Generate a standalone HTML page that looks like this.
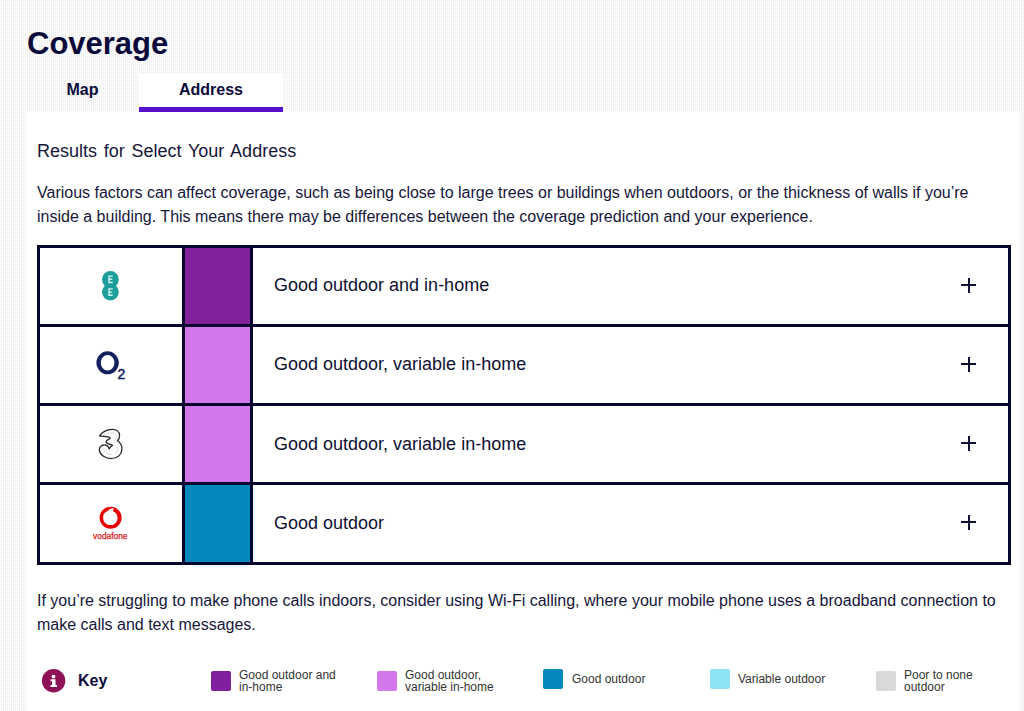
<!DOCTYPE html>
<html>
<head>
<meta charset="utf-8">
<style>
html,body{margin:0;padding:0;}
body{width:1024px;height:711px;overflow:hidden;position:relative;font-family:"Liberation Sans",sans-serif;
background-color:#fff;
background-image:conic-gradient(#eaeaea 0 25%,#fcfcfc 0 100%);
background-size:2px 2px;}
.abs{position:absolute;}
.title{left:27px;top:23.5px;font-size:31px;font-weight:bold;color:#0b0b3b;line-height:40px;white-space:nowrap;}
.tab{top:74px;height:38px;font-size:16px;font-weight:bold;color:#0b0b3b;text-align:center;line-height:32px;}
.tab.active{background:#fff;}
.tab.active::after{content:"";position:absolute;left:0;right:0;bottom:0;height:5px;background:#5810cc;}
.panel{left:26px;top:112px;width:991px;height:599px;background:#fff;}
.rstrip{left:1017px;top:112px;width:7px;height:599px;background:linear-gradient(90deg,#fefefe 0,#fbfbfb 4px,#f5f5f5 4px);}
.txt{color:#16163a;white-space:nowrap;}
.h2{left:37px;top:140px;font-size:18px;line-height:22px;word-spacing:1.75px;}
.p{left:37px;font-size:16px;line-height:24px;}
.tbl{left:37px;top:245px;width:974px;height:320px;background:#07072e;}
.cell{position:absolute;background:#fff;}
.sw{position:absolute;}
.rowtxt{position:absolute;left:274px;font-size:18px;line-height:22px;color:#0f0f33;white-space:nowrap;}
.plus{position:absolute;left:961px;width:15px;height:15px;}
.plus::before{content:"";position:absolute;left:0;top:6px;width:15px;height:2px;background:#0f0f33;}
.plus::after{content:"";position:absolute;left:6.5px;top:0;width:2px;height:15px;background:#0f0f33;}
.key{top:669px;height:24px;}
.ksw{position:absolute;width:20px;height:20px;border-radius:2px;}
.ktxt{position:absolute;font-size:12px;line-height:12px;color:#333;white-space:nowrap;}
</style>
</head>
<body>
<div class="abs title">Coverage</div>
<div class="abs tab" style="left:26px;width:113px;">Map</div>
<div class="abs tab active" style="left:139px;width:144px;">Address</div>
<div class="abs panel"></div>
<div class="abs rstrip"></div>

<div class="abs txt h2">Results for Select Your Address</div>
<div class="abs txt p" style="top:181px;">Various factors can affect coverage, such as being close to large trees or buildings when outdoors, or the thickness of walls if you’re<br>inside a building. This means there may be differences between the coverage prediction and your experience.</div>

<div class="abs tbl">
  <!-- row 1: y 248-324 -->
  <div class="cell" style="left:3px;top:3px;width:142px;height:76px;"></div>
  <div class="sw" style="left:148px;top:3px;width:65px;height:76px;background:#83209b;"></div>
  <div class="cell" style="left:216px;top:3px;width:755px;height:76px;"></div>
  <!-- row 2: y 327-403 -->
  <div class="cell" style="left:3px;top:82px;width:142px;height:76px;"></div>
  <div class="sw" style="left:148px;top:82px;width:65px;height:76px;background:#d378ea;"></div>
  <div class="cell" style="left:216px;top:82px;width:755px;height:76px;"></div>
  <!-- row 3: y 406-482 -->
  <div class="cell" style="left:3px;top:161px;width:142px;height:76px;"></div>
  <div class="sw" style="left:148px;top:161px;width:65px;height:76px;background:#d378ea;"></div>
  <div class="cell" style="left:216px;top:161px;width:755px;height:76px;"></div>
  <!-- row 4: y 485-562 -->
  <div class="cell" style="left:3px;top:240px;width:142px;height:77px;"></div>
  <div class="sw" style="left:148px;top:240px;width:65px;height:77px;background:#0588bc;"></div>
  <div class="cell" style="left:216px;top:240px;width:755px;height:77px;"></div>
</div>


<svg class="abs" style="left:0;top:0;" width="1024" height="711" viewBox="0 0 1024 711">
  <!-- EE -->
  <circle cx="110.4" cy="279.5" r="8.4" fill="#1d9e9b"/>
  <circle cx="110.4" cy="292.1" r="8.4" fill="#1d9e9b"/>
  <path d="M108.3 275.4h4.4v1.4h-3v1.8h2.6v1.3h-2.6v1.9h3v1.4h-4.4z" fill="#d2f6f6"/>
  <path d="M108.3 288.2h4.4v1.4h-3v1.8h2.6v1.3h-2.6v1.9h3v1.4h-4.4z" fill="#d2f6f6"/>
  <!-- O2 -->
  <path fill-rule="evenodd" fill="#13225e" d="M96.4 362.8a11.2 11.45 0 1 0 22.4 0a11.2 11.45 0 1 0 -22.4 0zM100.8 362.8a6.8 7.7 0 1 0 13.6 0a6.8 7.7 0 1 0 -13.6 0z"/>
  <text x="117.4" y="378.6" font-family="Liberation Sans" font-size="14" fill="#13225e" stroke="#13225e" stroke-width="0.5">2</text>
  <!-- Three -->
  <path d="M99.55 435.9 C102 432.4 107 429.5 112.2 429.4 C116.5 429.3 119.6 431.5 119.6 435.2 C119.6 437.8 118.6 439.6 117.5 440.7 C120.5 442.6 122.1 446 121.9 449.4 C121.6 454.6 117.6 458.4 111.8 458.5 C105.4 458.6 100 455 99.4 450.4 C99 447.2 101.2 445 104.1 444.9 C106.6 444.8 108.4 446.4 109.1 448.9 C110.1 447.2 111.4 446 112.7 445.3 C110.5 444.6 107.2 444 106.2 442.4 C105.6 441.4 106.8 440.4 108.2 439.6 C109.6 438.8 110.6 438.2 110.2 437.5 C107.4 436.4 102.8 436.6 99.55 435.9 Z" fill="#fdfdfd" stroke="#262626" stroke-width="1.25" stroke-linejoin="round"/>
  <path d="M104 434.6 C107 433 111 432.6 114.2 433.4 M116 435 C116.8 437 115.8 439.6 114.4 441.2 M103.6 449.4 C104.4 452.6 108.4 454.6 112 454.4 M117.2 447.2 C118.2 450 117.4 452.8 115.4 454.2" fill="none" stroke="#9a9a9a" stroke-width="0.8" stroke-dasharray="0.9 1.3"/>
  <!-- Vodafone -->
  <circle cx="110.6" cy="517.8" r="11" fill="#e60000"/>
  <path d="M107.8 510.9 C109.4 509 111.6 508 114 508.2 C113 509.2 112.8 510.4 113.2 511.4 C117 512.6 118.2 516.8 117.2 520.4 C115.8 524.8 110.6 526.2 106.8 524.2 C103 522.2 102.4 517.2 104 513.8 C104.8 512.4 106.2 511.4 107.8 510.9 Z" fill="#fff"/>
  <text x="110.3" y="538.8" text-anchor="middle" font-family="Liberation Sans" font-size="8.4" fill="#d81c1c" stroke="#d81c1c" stroke-width="0.25" letter-spacing="0">vodafone</text>
  <!-- info -->
  <circle cx="53.6" cy="680.8" r="11.7" fill="#8e1157"/>
  <circle cx="53.5" cy="676.6" r="1.9" fill="#fff"/>
  <path d="M50.6 679.2h4.9v5.8h1.5v2.1h-6.5v-2.1h1.6v-3.7h-1.5z" fill="#fff"/>
</svg>
<div class="rowtxt" style="top:274px;">Good outdoor and in-home</div>
<div class="rowtxt" style="top:353px;">Good outdoor, variable in-home</div>
<div class="rowtxt" style="top:433px;">Good outdoor, variable in-home</div>
<div class="rowtxt" style="top:512px;">Good outdoor</div>
<div class="plus" style="top:278px;"></div>
<div class="plus" style="top:357px;"></div>
<div class="plus" style="top:436px;"></div>
<div class="plus" style="top:515px;"></div>

<div class="abs txt p" style="top:589px;">If you’re struggling to make phone calls indoors, consider using Wi-Fi calling, where your mobile phone uses a broadband connection to<br>make calls and text messages.</div>

<!-- key -->
<div class="abs" style="left:78px;top:671px;font-size:16px;font-weight:bold;line-height:20px;color:#0b0b3b;">Key</div>

<div class="ksw" style="left:211px;top:671px;background:#80209c;"></div>
<div class="ktxt" style="left:239px;top:669px;">Good outdoor and<br>in-home</div>
<div class="ksw" style="left:377px;top:671px;background:#d378ea;"></div>
<div class="ktxt" style="left:405px;top:669px;">Good outdoor,<br>variable in-home</div>
<div class="ksw" style="left:543px;top:669px;background:#0588bc;"></div>
<div class="ktxt" style="left:572px;top:673px;">Good outdoor</div>
<div class="ksw" style="left:710px;top:669px;background:#8ee3f5;"></div>
<div class="ktxt" style="left:738px;top:673px;">Variable outdoor</div>
<div class="ksw" style="left:876px;top:671px;background:#d9d9d9;"></div>
<div class="ktxt" style="left:904px;top:669px;">Poor to none<br>outdoor</div>
</body>
</html>
